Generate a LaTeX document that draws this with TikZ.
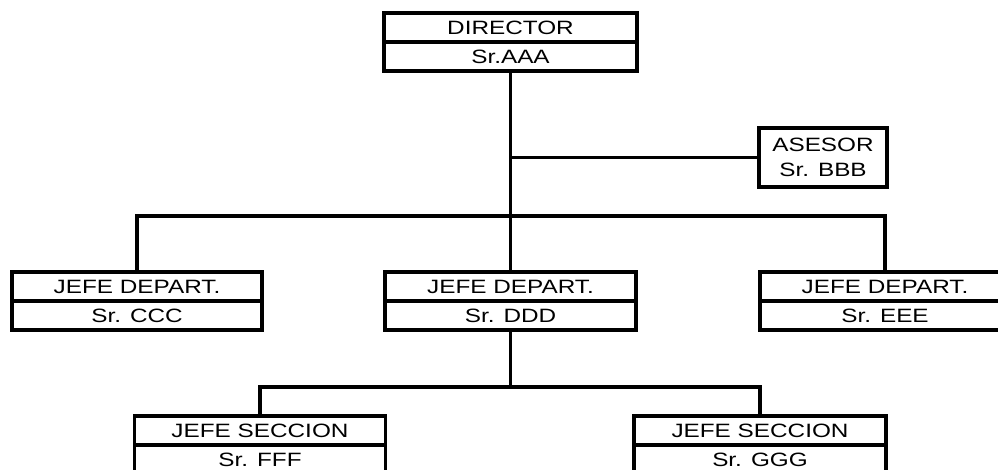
\documentclass[tikz,border=0pt]{standalone}
\usepackage{fontspec}
\setmainfont[FakeStretch=1.26]{Liberation Sans}
\usetikzlibrary{positioning}
\begin{document}
\begin{tikzpicture}[x=1pt, y=-1pt, font=\fontsize{19.3}{25}\selectfont,
    cargo/.style={draw, line width=3.2pt, inner sep=0pt, outer sep=0pt, minimum height=29pt},
    enlace/.style={line width=3.2pt}]
  \useasboundingbox (0,0) rectangle (998,470);
  % director y asesor
  \node[cargo, minimum width=253pt] (dirT) at (510.5,27.5) {DIRECTOR};
  \node[cargo, minimum width=253pt, below=0pt of dirT] (dirN) {Sr.AAA};
  \node[cargo, minimum width=128pt, minimum height=59pt, align=center] (ase) at (823,157.5) {ASESOR\\Sr. BBB};
  % jefes de departamento
  \node[cargo, minimum width=250pt] (ccT) at (137,286.5) {JEFE DEPART.};
  \node[cargo, minimum width=250pt, below=0pt of ccT] (ccN) {Sr. CCC};
  \node[cargo, minimum width=251pt] (ddT) at (510.5,286.5) {JEFE DEPART.};
  \node[cargo, minimum width=251pt, below=0pt of ddT] (ddN) {Sr. DDD};
  \node[cargo, minimum width=250pt] (eeT) at (885,286.5) {JEFE DEPART.};
  \node[cargo, minimum width=250pt, below=0pt of eeT] (eeN) {Sr. EEE};
  % jefes de seccion
  \node[cargo, minimum width=251pt] (ffT) at (260,430.5) {JEFE SECCION};
  \node[cargo, minimum width=251pt, below=0pt of ffT] (ffN) {Sr. FFF};
  \node[cargo, minimum width=252pt] (ggT) at (760,430.5) {JEFE SECCION};
  \node[cargo, minimum width=252pt, below=0pt of ggT] (ggN) {Sr. GGG};
  % lineas
  \coordinate (bus1) at (510.5,216);
  \coordinate (bus2) at (510.5,387);
  \coordinate (jase) at (dirN.south |- ase.west);
  \draw[enlace] (dirN.south) -- (ddT.north);
  \draw[enlace] (jase) -- (ase.west);
  \draw[enlace] (ccT.north) |- (bus1) -| (eeT.north);
  \draw[enlace] (ddN.south) -- (bus2);
  \draw[enlace] (ffT.north) |- (bus2) -| (ggT.north);
\end{tikzpicture}
\end{document}
